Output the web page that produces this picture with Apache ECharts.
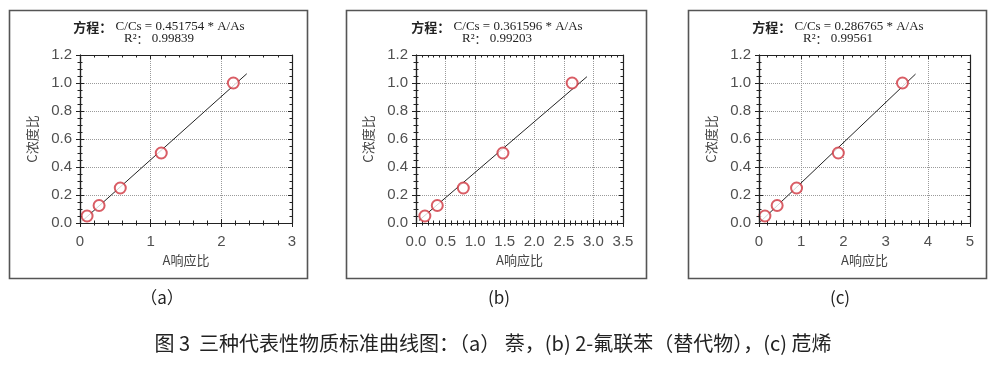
<!DOCTYPE html>
<html><head><meta charset="utf-8">
<script src="https://cdn.jsdelivr.net/npm/echarts@6/dist/echarts.min.js"></script>
<style>
html,body{margin:0;padding:0;background:#fff}
#wrap{position:relative;width:1000px;height:368px}
.layer{position:absolute;top:0;height:368px}
</style>
</head><body><div id="wrap"><div id="bg" class="layer" style="left:0;width:1000px"></div></div>
<script>
// ---- data ----
const concentrations = [0.05, 0.125, 0.25, 0.5, 1.0];
const responseA = [0.10, 0.27, 0.57, 1.15, 2.17];
const responseB = [0.15, 0.36, 0.80, 1.47, 2.64];
const responseC = [0.14, 0.43, 0.89, 1.88, 3.40];
const slopes = [0.451754, 0.361596, 0.286765];
const r2s = ['0.99839', '0.99203', '0.99561'];
const fitRangeA = [0.04, 2.36];
const fitRangeB = [0.05, 2.89];
const fitRangeC = [0.03, 3.71];
const xMax = [3, 3.5, 5];
const xInterval = [1, 0.5, 1];
const yMax = 1.2, yInterval = 0.2;
const panelLabels = ['（a）', '(b)', '(c)'];
const xName = 'A响应比', yName = 'C浓度比';
const caption = '图 3  三种代表性物质标准曲线图：（a） 萘，(b) 2-氟联苯（替代物），(c) 苊烯';

// ---- layout ----
const panelBoxes = [{left: 0, width: 330}, {left: 335, width: 330}, {left: 670, width: 330}];
const plotRects = [
  {left: 80, top: 55, width: 212, height: 168},
  {left: 81, top: 55, width: 207, height: 168},
  {left: 89, top: 55, width: 211, height: 168}
];
const frames = [[9, 10, 298, 268], [346, 10, 300, 268], [688, 10, 298, 268]];
const labelCenters = [162, 499, 840];

const responses = [responseA, responseB, responseC];
const fitRanges = [fitRangeA, fitRangeB, fitRangeC];
const lblFont = "'Liberation Sans', Arial, sans-serif";
const cjk = "'Noto Sans CJK SC', sans-serif";
const ink = '#222';

// ---- background layer: frames and texts ----
const graphics = [];
frames.forEach((f, i) => {
  graphics.push({type: 'rect', shape: {x: f[0] + 0.5, y: f[1] + 0.5, width: f[2], height: f[3]},
    style: {fill: 'none', stroke: '#555', lineWidth: 1.6}, silent: true});
  const cx = f[0] + f[2] / 2 + 1;
  graphics.push({type: 'text', x: cx, y: 27, style: {
    text: '{a|方程：}{b| C/Cs = ' + slopes[i].toFixed(6) + ' * A/As}',
    align: 'center', verticalAlign: 'middle',
    rich: {a: {fontFamily: cjk, fontSize: 13, fontWeight: 'bold', fill: ink},
           b: {fontFamily: "'Liberation Serif', serif", fontSize: 13, fill: ink}}}});
  graphics.push({type: 'text', x: cx, y: 39, style: {
    text: '{b|R²}{a|：}{b| ' + r2s[i] + '}',
    align: 'center', verticalAlign: 'middle',
    rich: {a: {fontFamily: cjk, fontSize: 12, fill: ink},
           b: {fontFamily: "'Liberation Serif', serif", fontSize: 13, fill: ink}}}});
  graphics.push({type: 'text', x: labelCenters[i], y: 298, style: {
    text: panelLabels[i], align: 'center', verticalAlign: 'middle',
    font: "17px 'Noto Sans CJK SC', sans-serif", fill: ink}});
});
graphics.push({type: 'text', x: 493, y: 343, style: {
  text: caption, align: 'center', verticalAlign: 'middle',
  font: "20px 'Noto Sans CJK SC', sans-serif", fill: ink}});
echarts.init(document.getElementById('bg')).setOption({
  animation: false, backgroundColor: 'transparent', graphic: graphics});

// ---- plot layers: one grid with one x and one y axis per instance ----
function axisBase(dim, i, inside, position) {
  return {type: 'value', position: position,
    min: 0, max: dim === 'x' ? xMax[i] : yMax, interval: dim === 'x' ? xInterval[i] : yInterval,
    axisLine: {show: true, onZero: false, lineStyle: {color: ink, width: 1.2}},
    axisTick: {show: true, inside: inside, length: 4, lineStyle: {color: ink}},
    minorTick: {show: true, splitNumber: dim === 'x' ? 5 : 4, length: 2.5, lineStyle: {color: ink}},
    splitLine: {show: false}, axisLabel: {show: false}};
}
const wrap = document.getElementById('wrap');
plotRects.forEach((g, i) => {
  for (let k = 0; k < 3; k++) {
    const div = document.createElement('div');
    div.className = 'layer';
    div.style.left = panelBoxes[i].left + 'px';
    div.style.width = panelBoxes[i].width + 'px';
    wrap.appendChild(div);
    let xa, ya, series = [];
    if (k === 0) {
      xa = axisBase('x', i, true, 'bottom');
      ya = axisBase('y', i, true, 'left');
      Object.assign(xa, {name: xName, nameLocation: 'middle', nameGap: 31,
        nameTextStyle: {fontFamily: cjk, fontSize: 13, color: '#444'},
        axisLabel: {show: true, fontFamily: lblFont, fontSize: 15, color: '#505050', margin: 11,
          formatter: v => (xInterval[i] < 1 ? Number(v).toFixed(1) : String(v))},
        splitLine: {show: true, lineStyle: {type: 'dotted', color: '#9a9a9a', width: 1}}});
      Object.assign(ya, {name: yName, nameLocation: 'middle', nameGap: 41, nameRotate: 90,
        nameTextStyle: {fontFamily: cjk, fontSize: 13, color: '#444'},
        axisLabel: {show: true, fontFamily: lblFont, fontSize: 15, color: '#505050', margin: 8,
          formatter: v => Number(v).toFixed(1)},
        splitLine: {show: true, lineStyle: {type: 'dotted', color: '#9a9a9a', width: 1}}});
      series = [
        {type: 'line', symbol: 'none', silent: true, z: 3, lineStyle: {color: ink, width: 1},
          data: fitRanges[i].map(x => [x, slopes[i] * x])},
        {type: 'scatter', z: 4, symbol: 'emptyCircle', symbolSize: 11,
          itemStyle: {color: '#d0343f', borderColor: '#d0343f', borderWidth: 1.3},
          data: responses[i].map((x, n) => [x, concentrations[n]])}
      ];
    } else if (k === 1) {
      xa = axisBase('x', i, false, 'bottom');
      ya = axisBase('y', i, false, 'left');
    } else {
      xa = axisBase('x', i, true, 'top');
      ya = axisBase('y', i, true, 'right');
    }
    echarts.init(div).setOption({animation: false, backgroundColor: 'transparent',
      grid: Object.assign({}, g), xAxis: xa, yAxis: ya, series: series});
  }
});
</script>
</body></html>
